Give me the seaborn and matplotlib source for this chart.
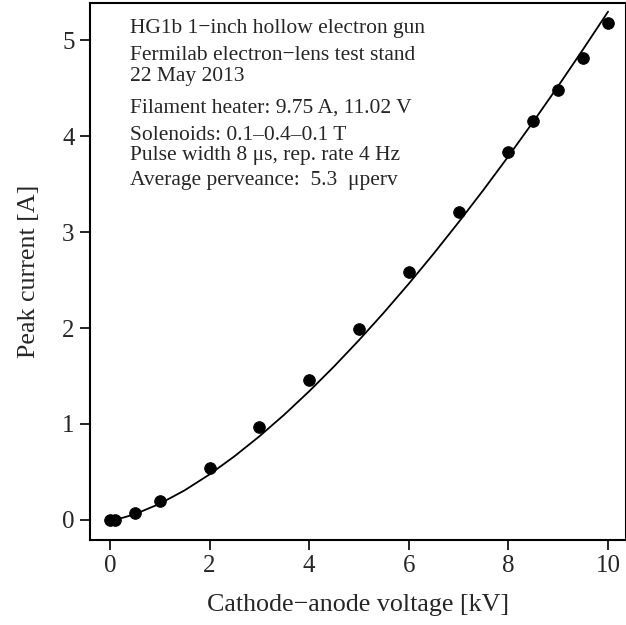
import numpy as np
import pandas as pd
import seaborn as sns
import matplotlib.pyplot as plt

# measured points
voltage_kv = [0.0, 0.1, 0.5, 1, 2, 3, 4, 5, 6, 7, 8, 8.5, 9, 9.5, 10]
current_a = [0.0, 0.0, 0.07, 0.2, 0.54, 0.97, 1.46, 1.99, 2.59, 3.21, 3.84, 4.16, 4.48, 4.82, 5.18]

# fitted curve, values
fit_kv = [0, 0.25, 0.5, 1, 1.5, 2, 2.5, 3, 3.5, 4, 4.5, 5, 5.5, 6, 6.5, 7, 7.5, 8, 8.5, 9, 9.5, 10]
fit_a = [0, 0.021, 0.059, 0.168, 0.308, 0.474, 0.663, 0.871, 1.097, 1.341, 1.600, 1.874,
         2.162, 2.463, 2.777, 3.104, 3.442, 3.792, 4.153, 4.525, 4.908, 5.3]

notes = [
    "HG1b 1\u2212inch hollow electron gun",
    "Fermilab electron\u2212lens test stand",
    "22 May 2013",
    "Filament heater: 9.75 A, 11.02 V",
    "Solenoids: 0.1\u20130.4\u20130.1 T",
    "Pulse width 8 \u03bcs, rep. rate 4 Hz",
    "Average perveance:  5.3  \u03bcperv",
]

pts = pd.DataFrame({"V": voltage_kv, "I": current_a})
fit = pd.DataFrame({"V": fit_kv, "I": fit_a})

sns.set_style("ticks")
plt.rcParams["font.family"] = ["Liberation Serif", "DejaVu Serif"]

fig = plt.figure(figsize=(6.26, 6.25), dpi=100)
ax = fig.add_axes([90 / 626, 85 / 625, 536 / 626, 537 / 625])

sns.lineplot(data=fit, x="V", y="I", ax=ax, color="black", linewidth=1.3)
sns.scatterplot(data=pts, x="V", y="I", ax=ax, color="black", s=70, edgecolor="black", zorder=3)

ax.set_xlim(-0.4, 10.36)
ax.set_ylim(-0.21, 5.39)
ax.set_xticks([0, 2, 4, 6, 8, 10])
ax.set_yticks([0, 1, 2, 3, 4, 5])
ax.tick_params(direction="out", length=7.5, width=1.2, labelsize=18, color="black")
for s in ax.spines.values():
    s.set_linewidth(1.5)
    s.set_color("black")

ax.set_xlabel("Cathode\u2212anode voltage [kV]", fontsize=18.7, labelpad=12)
ax.set_ylabel("Peak current [A]", fontsize=18.7, labelpad=16)

# baselines of the note lines, in pixels from the top
ys = [33, 60, 81, 113, 140, 160, 185]
for t, y in zip(notes, ys):
    ax.text(130 / 626, 1 - y / 625, t, transform=fig.transFigure, fontsize=15.5,
            va="baseline", ha="left")

fig.savefig("out.png", dpi=100)
